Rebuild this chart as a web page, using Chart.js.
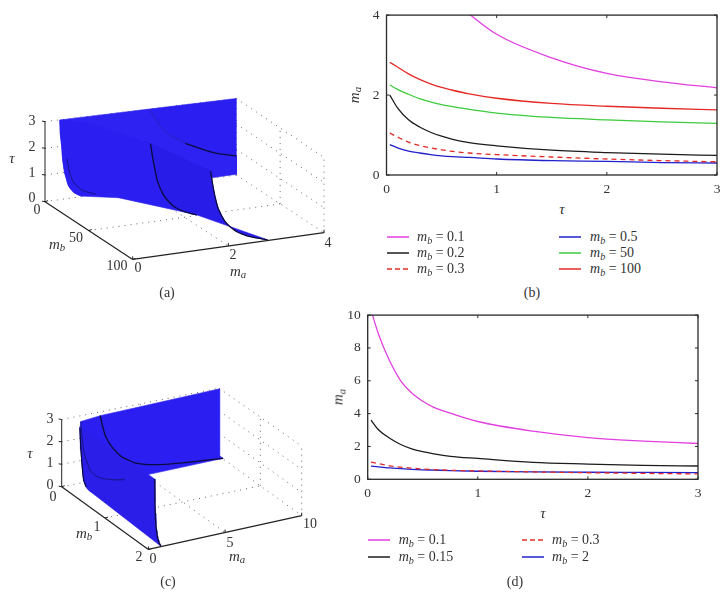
<!DOCTYPE html>
<html><head><meta charset="utf-8">
<script src="https://cdn.jsdelivr.net/npm/chart.js@4"></script>
<style>
html,body{margin:0;padding:0;background:#fff;overflow:hidden;width:727px;height:595px}
body{position:relative;font-family:"Liberation Serif",serif;color:#333}
canvas{position:absolute}
.t{position:absolute;transform:translate(-50%,-50%);white-space:nowrap;font-size:14px;line-height:1}
.m{font-size:15px}
.l{position:absolute;transform:translate(0,-50%);white-space:nowrap;font-size:14px;line-height:1}
.r{transform:translate(-50%,-50%) rotate(-90deg)}
sub{font-size:.72em;line-height:0;vertical-align:-.25em}
.k{position:absolute;height:2px;width:22px;opacity:.75;margin-top:-1px}
</style></head><body>
<script>
// ---- values ----
const tau      = [0.03,0.1,0.2,0.3,0.4,0.5,0.6,0.75,1,1.5,2,2.5,3];
const ma_b01   = [10.3,8.8,7.2,6.0,5.25,4.75,4.38,4.03,3.52,2.93,2.54,2.33,2.18];
const ma_b015  = [3.6,3.0,2.5,2.12,1.85,1.68,1.55,1.4,1.27,1.03,0.93,0.85,0.81];
const ma_b02   = [2.0,1.68,1.38,1.2,1.07,0.97,0.89,0.81,0.73,0.62,0.56,0.52,0.49];
const ma_b03   = [1.05,0.95,0.82,0.74,0.68,0.63,0.59,0.55,0.51,0.45,0.4,0.36,0.33];
const ma_b05   = [0.76,0.68,0.6,0.55,0.51,0.48,0.46,0.44,0.4,0.36,0.34,0.31,0.3];
const ma_b2    = [0.8,0.76,0.69,0.65,0.61,0.58,0.56,0.53,0.49,0.45,0.43,0.42,0.41];
const ma_b10   = [1.35,1.3,1.2,1.12,1.06,1.0,0.97,0.93,0.88,0.8,0.75,0.72,0.7];
const ma_b50   = [2.25,2.14,2.02,1.91,1.83,1.76,1.71,1.64,1.55,1.44,1.38,1.33,1.29];
const ma_b100  = [2.82,2.7,2.53,2.39,2.28,2.19,2.12,2.03,1.92,1.79,1.72,1.67,1.63];
const MAGENTA='#e23fe0',BLACK='#1c1c1c',RED='#e42a26',BLUE='#2020cc',GREEN='#3ccb3c',INK='#0b0b3c';

// ---- helpers ----
const mbText=v=>`<i>m<sub>b</sub></i> = ${v}`;
function text(cls,x,y,html){const d=document.createElement('div');d.className=cls;d.style.left=x+'px';d.style.top=y+'px';d.innerHTML=html;document.body.appendChild(d);}
function key(x,y,color,dash){const d=document.createElement('div');d.className='k';d.style.left=x+'px';d.style.top=y+'px';
  d.style.background=dash?`repeating-linear-gradient(90deg,${color} 0 5px,transparent 5px 8px)`:color;document.body.appendChild(d);}
function makeCanvas(l,t,w,h){const c=document.createElement('canvas');c.width=w;c.height=h;c.style.left=l+'px';c.style.top=t+'px';c.style.width=w+'px';c.style.height=h+'px';document.body.appendChild(c);return c;}

const framePlugin={id:'frame',afterDatasetsDraw(ch){
  const {ctx,chartArea:a,scales:{x,y}}=ch;ctx.save();ctx.strokeStyle='#2a2a2a';ctx.lineWidth=1.3;
  ctx.strokeRect(a.left,a.top,a.right-a.left,a.bottom-a.top);ctx.lineWidth=1;ctx.beginPath();
  x.ticks.forEach(t=>{const p=x.getPixelForValue(t.value);ctx.moveTo(p,a.bottom);ctx.lineTo(p,a.bottom-3);ctx.moveTo(p,a.top);ctx.lineTo(p,a.top+3);});
  y.ticks.forEach(t=>{const p=y.getPixelForValue(t.value);ctx.moveTo(a.left,p);ctx.lineTo(a.left+3,p);ctx.moveTo(a.right,p);ctx.lineTo(a.right-3,p);});
  ctx.stroke();ctx.restore();}};

function linePanel(box,yMax,yStep,series){
  const c=makeCanvas(box.l,box.t,box.w,box.h);
  new Chart(c,{type:'scatter',plugins:[framePlugin],data:{datasets:series.map(s=>({
      data:tau.map((t,i)=>({x:t,y:s.ma[i]})),showLine:true,pointRadius:0,borderColor:s.color,borderWidth:1.3,
      borderDash:s.dash?[5,4]:[],cubicInterpolationMode:'monotone'}))},
    options:{responsive:false,animation:false,devicePixelRatio:1,
      layout:{autoPadding:false,padding:{top:box.pt,right:box.pr,left:0,bottom:0}},
      plugins:{legend:{display:false},tooltip:{enabled:false}},
      scales:{
        x:{type:'linear',min:0,max:3,grid:{display:false,drawTicks:false},border:{display:false},
           afterFit(s){s.height=box.ah;},
           ticks:{stepSize:1,maxRotation:0,padding:6,color:'#333',font:{family:'Liberation Serif',size:13.5}}},
        y:{type:'linear',min:0,max:yMax,grid:{display:false,drawTicks:false},border:{display:false},
           afterFit(s){s.width=box.aw;},
           ticks:{stepSize:yStep,padding:7,color:'#333',font:{family:'Liberation Serif',size:13.5}}}
      }}});
}

// 3D panels: values (ma, mb, tau) are projected to the flat view scale
function surfacePanel(cfg){
  const P=(ma,mb,t)=>{const u=ma/cfg.maMax,v=mb/cfg.mbMax;
    return {x:cfg.O[0]+cfg.U[0]*u+cfg.V[0]*v+cfg.UV[0]*u*v,
            y:cfg.O[1]+cfg.U[1]*u+cfg.V[1]*v+cfg.UV[1]*u*v-t*(cfg.h0+cfg.hU*u+cfg.hV*v)};};
  const ds=[];
  const seg=(pts,color,w,order,dash)=>ds.push({data:pts,showLine:true,pointRadius:0,borderColor:color,borderWidth:w,borderDash:dash||[],order});
  const M=cfg.maMax,B=cfg.mbMax,ticksMa=cfg.maTicks,ticksMb=cfg.mbTicks,ticksT=[1,2,3];
  const dot=(a,b)=>seg([P(...a),P(...b)],'#666',1,200,[1,5]);
  // dotted box grid
  ticksT.forEach(t=>{dot([0,0,t],[M,0,t]);dot([M,0,t],[M,B,t]);});
  ticksMa.forEach(m=>{dot([m,0,0],[m,B,0]);dot([m,0,0],[m,0,3]);});
  ticksMb.forEach(b=>{dot([0,b,0],[M,b,0]);dot([M,b,0],[M,b,3]);});
  dot([0,0,0],[M,0,0]);dot([M,0,0],[M,B,0]);
  dot([M,0,0],[M,0,3]);dot([M,B,0],[M,B,3]);
  // surface strips, back to front
  const rows=cfg.rows.map(r=>tau.map((t,i)=>P(Math.min(r.ma[i],M),r.mb,t)));
  for(let i=0;i<rows.length-1;i++){
    const poly=rows[i].concat(rows[i+1].slice().reverse(),[rows[i][0]]);
    ds.push({data:poly,showLine:true,pointRadius:0,borderColor:cfg.shades[i],borderWidth:.6,backgroundColor:cfg.shades[i],fill:'shape',order:100-i});
  }
  // black curves on the surface
  cfg.curves.forEach(c=>{
    const pts=[];tau.forEach((t,i)=>{if(c.ma[i]<=M*1.035&&(c.from===undefined||t>=c.from)&&(c.to===undefined||t<=c.to))pts.push(P(Math.min(c.ma[i],M),c.mb,t));});
    ds.push({data:pts,showLine:true,pointRadius:0,borderColor:c.color,borderWidth:c.w,tension:.3,order:c.order||5});
  });
  // solid axes and tick marks
  seg([P(0,0,0),P(0,0,3)],'#222',1,1);
  seg([P(0,0,0),P(0,B,0)],'#222',1.2,1);
  seg([P(0,B,0),P(M,B,0)],'#222',1.2,1);
  [0,1,2,3].forEach(t=>{const p=P(0,0,t);seg([p,{x:p.x-3,y:p.y-.5}],'#222',1,1);});
  ticksMb.concat([0,B]).forEach(b=>{const p=P(0,b,0);seg([p,{x:p.x+3,y:p.y-1}],'#222',1,1);});
  ticksMa.concat([0,M]).forEach(m=>{const p=P(m,B,0);seg([p,{x:p.x,y:p.y-3}],'#222',1,1);});
  const c=makeCanvas(cfg.l,cfg.t,cfg.w,cfg.h);
  new Chart(c,{type:'scatter',data:{datasets:ds},options:{responsive:false,animation:false,devicePixelRatio:1,
    layout:{autoPadding:false,padding:0},plugins:{legend:{display:false},tooltip:{enabled:false}},
    scales:{x:{type:'linear',display:false,min:0,max:cfg.w},y:{type:'linear',display:false,min:0,max:cfg.h,reverse:true}}}});
}

// ---- panel (a) ----
const edgeA=tau.map(()=>4);
surfacePanel({l:0,t:60,w:340,h:250,maMax:4,mbMax:100,maTicks:[2],mbTicks:[50],
  O:[45,141.7],U:[191.3,-26.7],V:[87.7,57.7],UV:[0,0],h0:26.7,hU:-1.2,hV:-.4,
  rows:[{mb:0.02,ma:edgeA},{mb:0.1,ma:ma_b01},{mb:0.2,ma:ma_b02},{mb:0.3,ma:ma_b03},{mb:0.5,ma:ma_b05},{mb:10,ma:ma_b10},{mb:50,ma:ma_b50},{mb:100,ma:ma_b100}],
  shades:['#2a1ff0','#2d22f1','#2a1ff0','#2a1ff0','#2a1ff0','#2a1ff0','#281ce8'],
  curves:[{mb:0.1,ma:ma_b01,color:'#2018a8',w:.7,from:1.5,order:6},{mb:0.1,ma:ma_b01,color:INK,w:1.3,to:1.5},
          {mb:0.3,ma:ma_b03,color:'#14106a',w:.8,to:1.5},{mb:50,ma:ma_b50,color:INK,w:1.3},{mb:100,ma:ma_b100,color:INK,w:1.3}]});
[['3',32,121],['2',32,147],['1',32,173],['0',32,198]].forEach(a=>text('t',a[1],a[2],a[0]));
text('t m',12,158,'<i>τ</i>');
[['0',37,210],['50',76,238],['100',117,266],['0',138,268],['2',233,255],['4',328,243]].forEach(a=>text('t',a[1],a[2],a[0]));
text('t m',57,244,'<i>m<sub>b</sub></i>');text('t m',238,271,'<i>m<sub>a</sub></i>');text('t',167,293,'(a)');

// ---- panel (b) ----
linePanel({l:340,t:0,w:387,h:200,pt:13,pr:10,ah:25,aw:46.5},4,2,[
  {ma:ma_b01,color:MAGENTA},{ma:ma_b02,color:BLACK},{ma:ma_b03,color:RED,dash:true},
  {ma:ma_b05,color:BLUE},{ma:ma_b50,color:GREEN},{ma:ma_b100,color:RED}]);
text('t r m',354,95,'<i>m<sub>a</sub></i>');text('t m',562,209,'<i>τ</i>');
const legB=[[0.1,MAGENTA,0],[0.2,BLACK,0],[0.3,RED,1],[0.5,BLUE,0],[50,GREEN,0],[100,RED,0]];
legB.forEach((e,i)=>{const col=i<3?0:1,y=236.5+(i%3)*16.3;key(col?559:386.5,y,e[1],e[2]);text('l',col?590:417,y,mbText(e[0]));});
text('t',532,293,'(b)');

// ---- panel (c) ----
const edgeC=tau.map(()=>10);
surfacePanel({l:0,t:320,w:340,h:270,maMax:10,mbMax:2,maTicks:[5],mbTicks:[1],
  O:[61.7,166.7],U:[157.3,-30.7],V:[86.7,62.7],UV:[-4,-3],h0:22.4,hU:.2,hV:.6,
  rows:[{mb:0.02,ma:edgeC},{mb:0.1,ma:ma_b01},{mb:0.15,ma:ma_b015},{mb:0.3,ma:ma_b03},{mb:2,ma:ma_b2}],
  shades:['#2a1ff0','#2a1ff0','#3429f2','#2a1ee8'],
  curves:[{mb:0.1,ma:ma_b01,color:INK,w:1.3},{mb:0.15,ma:ma_b015,color:'#14106a',w:.8},
          {mb:0.3,ma:ma_b03,color:INK,w:1.2,from:.3},{mb:2,ma:ma_b2,color:INK,w:1.3}]});
[['3',50,98.7],['2',50,121.3],['1',50,143.3],['0',50,165]].forEach(a=>text('t',a[1],a[2]+320,a[0]));
text('t m',30,452.7,'<i>τ</i>');
[['0',53,496.7],['1',97,526.7],['2',139,557.3],['0',153,559],['5',230,542.7],['10',310,524.3]].forEach(a=>text('t',a[1],a[2],a[0]));
text('t m',84,533.3,'<i>m<sub>b</sub></i>');text('t m',237,556,'<i>m<sub>a</sub></i>');text('t',168,581.7,'(c)');

// ---- panel (d) ----
linePanel({l:330,t:300,w:397,h:210,pt:14.5,pr:29,ah:30.7,aw:37.7},10,2,[
  {ma:ma_b01,color:MAGENTA},{ma:ma_b015,color:BLACK},{ma:ma_b03,color:RED,dash:true},{ma:ma_b2,color:BLUE}]);
text('t r m',338,397,'<i>m<sub>a</sub></i>');text('t m',543,513,'<i>τ</i>');
const legD=[[0.1,MAGENTA,0],[0.15,BLACK,0],[0.3,RED,1],[2,BLUE,0]];
legD.forEach((e,i)=>{const col=i<2?0:1,y=540+(i%2)*16.7;key(col?522:367.7,y,e[1],e[2]);text('l',col?552:398.7,y,mbText(e[0]));});
text('t',515,582,'(d)');
</script>
</body></html>
